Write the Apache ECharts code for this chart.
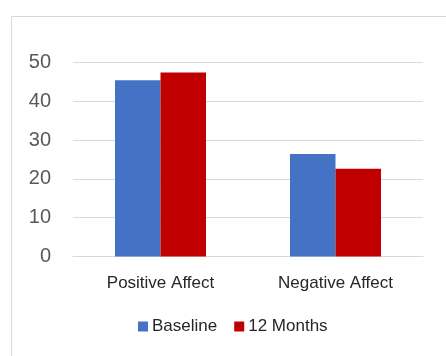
<!DOCTYPE html>
<html><head><meta charset="utf-8">
<script src="https://cdn.jsdelivr.net/npm/echarts@6/dist/echarts.min.js"></script>
<style>html,body{margin:0;padding:0;background:#fff}#c{width:446px;height:356px}</style>
</head><body><div id="c"></div>
<script>
const categories = ['Positive Affect', 'Negative Affect'];
const baseline = [45.4, 26.4];
const months12 = [47.4, 22.6];
const yTicks = [0, 10, 20, 30, 40, 50];

const chart = echarts.init(document.getElementById('c'), null, {renderer: 'canvas'});
chart.setOption({
  animation: false,
  backgroundColor: '#fff',
  graphic: [{
    type: 'rect', left: 9, top: 14, z: -1,
    shape: {width: 460, height: 400},
    style: {fill: 'none', stroke: '#d9d9d9', lineWidth: 1}
  }],
  grid: {left: 73, right: 23, top: 62.5, bottom: 99.5},
  legend: {
    bottom: 16, left: 133,
    itemWidth: 10, itemHeight: 10, itemGap: 17,
    icon: 'rect',
    textStyle: {fontFamily: 'Liberation Sans', fontSize: 17, color: '#262626', padding: [0, 0, 0, -1]},
    data: ['Baseline', '12 Months']
  },
  xAxis: {
    type: 'category', data: categories,
    axisLine: {lineStyle: {color: '#d9d9d9', width: 1}},
    axisTick: {show: false},
    axisLabel: {margin: 18, fontFamily: 'Liberation Sans', fontSize: 17, color: '#262626'}
  },
  yAxis: {
    type: 'value', min: yTicks[0], max: yTicks[yTicks.length - 1], interval: 10,
    axisLine: {show: false}, axisTick: {show: false},
    splitLine: {lineStyle: {color: '#d9d9d9', width: 1}},
    axisLabel: {margin: 22, fontFamily: 'Liberation Sans', fontSize: 20, color: '#595959', padding: [3, 0, 0, 0]}
  },
  series: [
    {name: 'Baseline', type: 'bar', data: baseline, barGap: '0%', barCategoryGap: '48%',
     itemStyle: {color: '#4472C4'}},
    {name: '12 Months', type: 'bar', data: months12, barGap: '0%', barCategoryGap: '48%',
     itemStyle: {color: '#C00000'}}
  ]
});
</script></body></html>
